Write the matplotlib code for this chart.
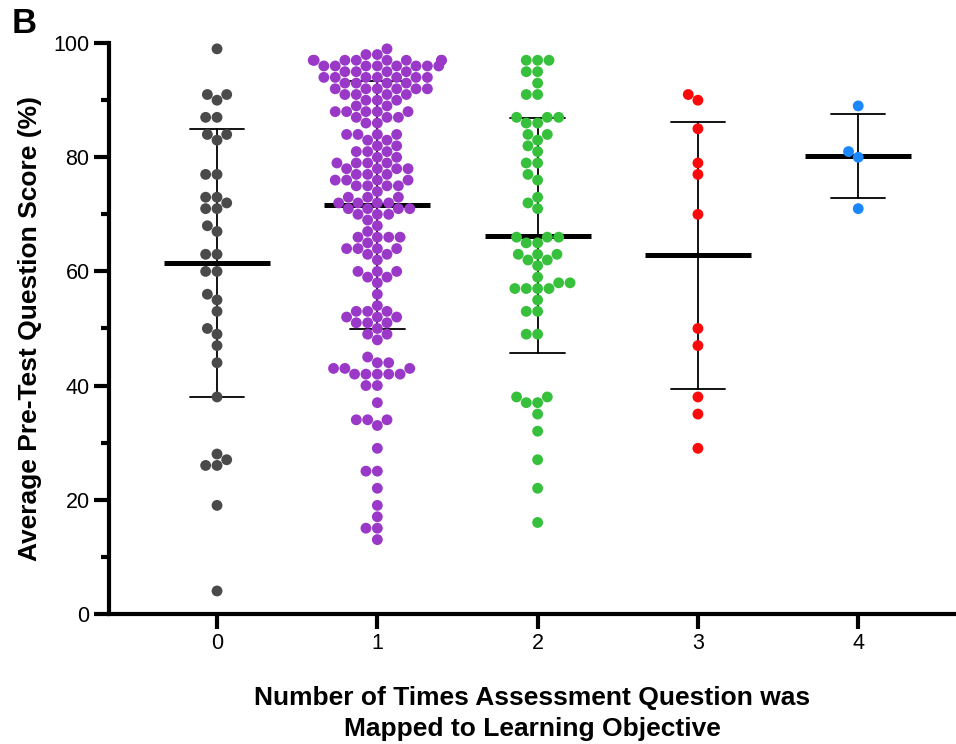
import numpy as np
import pandas as pd
import seaborn as sns
import matplotlib.pyplot as plt
from matplotlib.ticker import MultipleLocator

sns.set_style('white')
plt.rcParams['font.family'] = ['Liberation Sans', 'DejaVu Sans']
plt.rcParams['text.color'] = 'black'
plt.rcParams['axes.labelcolor'] = 'black'

# average pre-test score of each question, grouped by times mapped to an objective
mapped_0 = [99, 91, 91, 90, 87, 87, 84, 84, 83, 77, 77, 73, 73, 72, 71, 71, 68, 67,
            63, 63, 60, 60, 56, 55, 53, 50, 49, 47, 44, 38, 28, 27, 26, 26, 19, 4]
mapped_1 = ([99] + [98] * 2 + [97] * 8 + [96] * 8 + [95] * 4 + [94] * 7 + [93] * 4 +
            [92] * 6 + [91] * 4 + [90] * 3 + [89] * 2 + [88] * 5 + [87] * 3 + [86] * 2 +
            [84] * 4 + [83] * 2 + [82] * 2 + [81] * 3 + [80] * 2 + [79] * 4 + [78] * 4 +
            [77] * 3 + [76] * 4 + [75] * 4 + [74] + [73] * 3 + [72] * 4 + [71] * 4 +
            [70] * 3 + [69, 68, 67] + [66] * 4 + [65] + [64] * 4 + [63] * 2 + [62] +
            [60] * 3 + [59] * 2 + [58, 56, 54] + [53] * 3 + [52] * 3 + [51] * 3 + [50] +
            [49] * 2 + [48, 45] + [44] * 2 + [43] * 3 + [42] * 5 + [40] * 2 + [37] +
            [34] * 3 + [33, 29] + [25] * 2 + [22, 19, 17] + [15] * 2 + [13])
mapped_2 = [97, 97, 97, 95, 95, 93, 91, 91, 87, 87, 87, 86, 86, 84, 84, 83, 82, 81,
            79, 79, 77, 76, 73, 72, 71, 66, 66, 66, 65, 65, 63, 63, 63, 62, 62, 61,
            59, 58, 58, 57, 57, 57, 57, 55, 53, 53, 49, 49, 38, 38, 37, 37, 35, 32,
            27, 22, 16]
mapped_3 = [91, 90, 85, 79, 77, 70, 50, 47, 38, 35, 29]
mapped_4 = [89, 81, 80, 71]

groups = ['0', '1', '2', '3', '4']
colors = ['#4a4a4a', '#9a38c8', '#36c03c', '#fa0a0a', '#1a86ff']
all_scores = [mapped_0, mapped_1, mapped_2, mapped_3, mapped_4]

df = pd.DataFrame({
    'times': np.concatenate([[g] * len(s) for g, s in zip(groups, all_scores)]),
    'score': np.concatenate(all_scores),
})

fig = plt.figure(figsize=(9.56, 7.44), dpi=100)
ax = fig.add_axes([0.114, 0.175, 0.886, 0.767])

# mean and SD bars
for i, s in enumerate(all_scores):
    m = np.mean(s)
    sd = np.std(s, ddof=1)
    ax.plot([i, i], [m - sd, m + sd], color='black', lw=1.3, zorder=1)
    ax.plot([i - 0.17, i + 0.17], [m + sd, m + sd], color='black', lw=1.3, zorder=1)
    ax.plot([i - 0.17, i + 0.17], [m - sd, m - sd], color='black', lw=1.3, zorder=1)
    ax.plot([i - 0.33, i + 0.33], [m, m], color='black', lw=3.6, zorder=1,
            solid_capstyle='butt')

sns.swarmplot(data=df, x='times', y='score', hue='times', palette=colors,
              order=groups, hue_order=groups, size=7.8, linewidth=0,
              legend=False, ax=ax, zorder=3)

ax.set_xlim(-0.674, 4.61)
ax.set_ylim(0, 100)
ax.yaxis.set_major_locator(MultipleLocator(20))
ax.yaxis.set_minor_locator(MultipleLocator(10))

for side in ['top', 'right']:
    ax.spines[side].set_visible(False)
for side in ['left', 'bottom']:
    ax.spines[side].set_linewidth(3)
    ax.spines[side].set_color('black')

ax.tick_params(axis='both', which='major', direction='out', length=11, width=3,
               labelsize=15.5, colors='black', left=True, bottom=True)
ax.tick_params(axis='y', which='minor', direction='out', length=6, width=3,
               left=True, colors='black')
ax.tick_params(axis='x', pad=3)
ax.tick_params(axis='y', pad=3)

ax.set_xlabel('Number of Times Assessment Question was\nMapped to Learning Objective',
              fontsize=19, fontweight='bold', labelpad=23, linespacing=1.38,
              color='black')
ax.set_ylabel('Average Pre-Test Question Score (%)', fontsize=19,
              fontweight='bold', labelpad=8, color='black')

fig.text(0.012, 0.955, 'B', fontsize=25, fontweight='bold', color='black')

fig.savefig('out.png', dpi=100)
